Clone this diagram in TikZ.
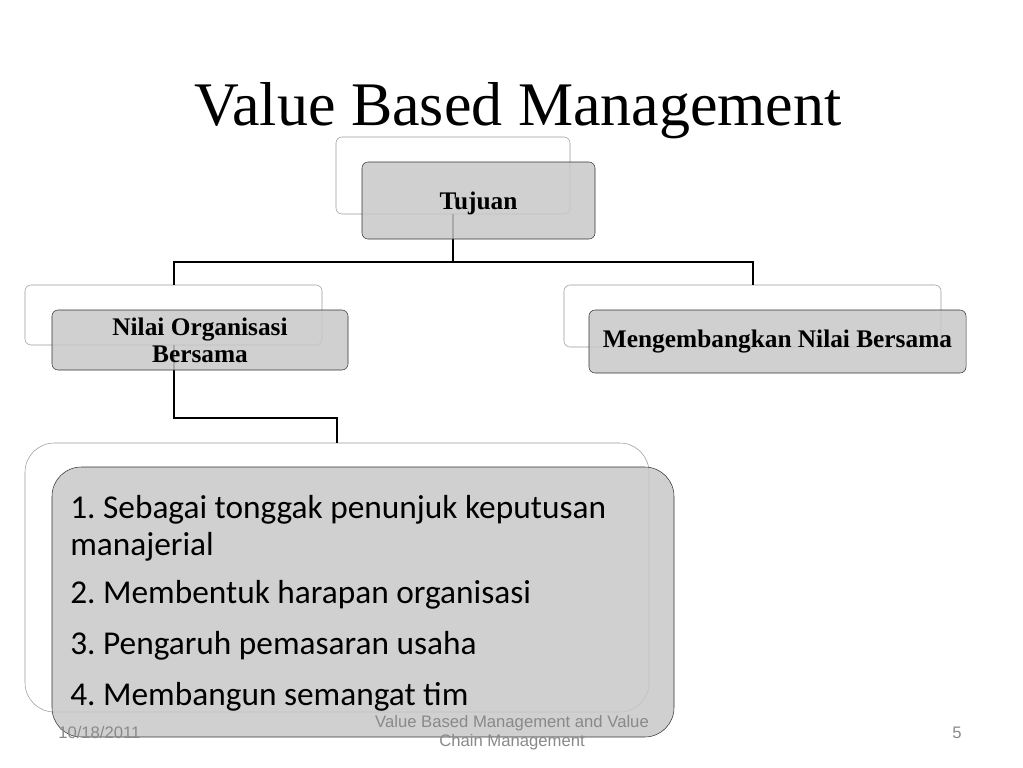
\documentclass[tikz,border=0pt]{standalone}
\usepackage{fontspec}
\setmainfont{Liberation Serif}
\newfontfamily\listfont{Carlito}
\newfontfamily\footfont{Liberation Sans}
\definecolor{boxgray}{RGB}{200,200,200}
\definecolor{footgray}{RGB}{137,137,137}
\frenchspacing
\tikzset{
	backbox/.style={draw=black!40, fill=white, rounded corners=4.5pt, inner sep=0pt},
	frontbox/.style={draw=black!80, fill=boxgray, fill opacity=0.85, text opacity=1,
		rounded corners=4.5pt, inner sep=0pt, align=center,
		font=\fontsize{19}{20.5}\selectfont\bfseries},
	conn/.style={line width=1.5pt},
	footer/.style={text=footgray, align=center, font=\footfont\fontsize{12.5}{14.25}\selectfont}
}

\begin{document}
\begin{tikzpicture}[x=0.75pt,y=-0.75pt]
		\useasboundingbox (0,0) rectangle (1023,767);
		%Titolo
		\node [anchor=base] (title) at (518,125) {\fontsize{46.5}{50}\selectfont Value Based Management};
		%Riquadri dietro
		\node [backbox, minimum width=175.5pt, minimum height=57.75pt] (tujB) at (453,175.5) {};
		\node [backbox, minimum width=222.75pt, minimum height=45pt] (nilB) at (173.5,315) {};
		\node [backbox, minimum width=282.75pt, minimum height=46.5pt] (mengB) at (752.5,316) {};
		\node [backbox, rounded corners=22pt, minimum width=468pt, minimum height=201.75pt] (listB) at (337,577.5) {};
		%Collegamenti
		\draw [conn] (tujB.south) -- ++(0,48) -| (nilB.north);
		\draw [conn] (tujB.south) -- ++(0,48) -| (mengB.north);
		\draw [conn] (nilB.south) -- ++(0,73) -| (listB.north);
		%Riquadri davanti
		\node [frontbox, text depth=0pt, minimum width=174.75pt, minimum height=57.75pt] (tujF) at (478.5,200.5) {Tujuan};
		\node [frontbox, minimum width=222pt, minimum height=45pt] (nilF) at (200,340) {Nilai Organisasi\\Bersama};
		\node [frontbox, minimum width=282.75pt, minimum height=47.25pt] (mengF) at (777.5,341.5) {Mengembangkan Nilai Bersama};
		\node [frontbox, rounded corners=22pt, minimum width=466.5pt, minimum height=202.5pt] (listF) at (363,602) {};
		\node [anchor=north west, inner sep=0pt, align=left, font=\listfont\fontsize{25}{27.75}\selectfont] (list) at (70,495)
			{1. Sebagai tonggak penunjuk keputusan\\manajerial\\[8pt]
			 2. Membentuk harapan organisasi\\[11pt]
			 3. Pengaruh pemasaran usaha\\[10pt]
			 4. Membangun semangat tim};
		%Pie di pagina
		\node [footer, anchor=base west, inner sep=0pt] (date) at (58,738) {10/18/2011};
		\node [footer] (foot) at (512,733) {Value Based Management and Value\\Chain Management};
		\node [footer, anchor=base, inner sep=0pt] (page) at (957,738) {5};
	\end{tikzpicture}
\end{document}
